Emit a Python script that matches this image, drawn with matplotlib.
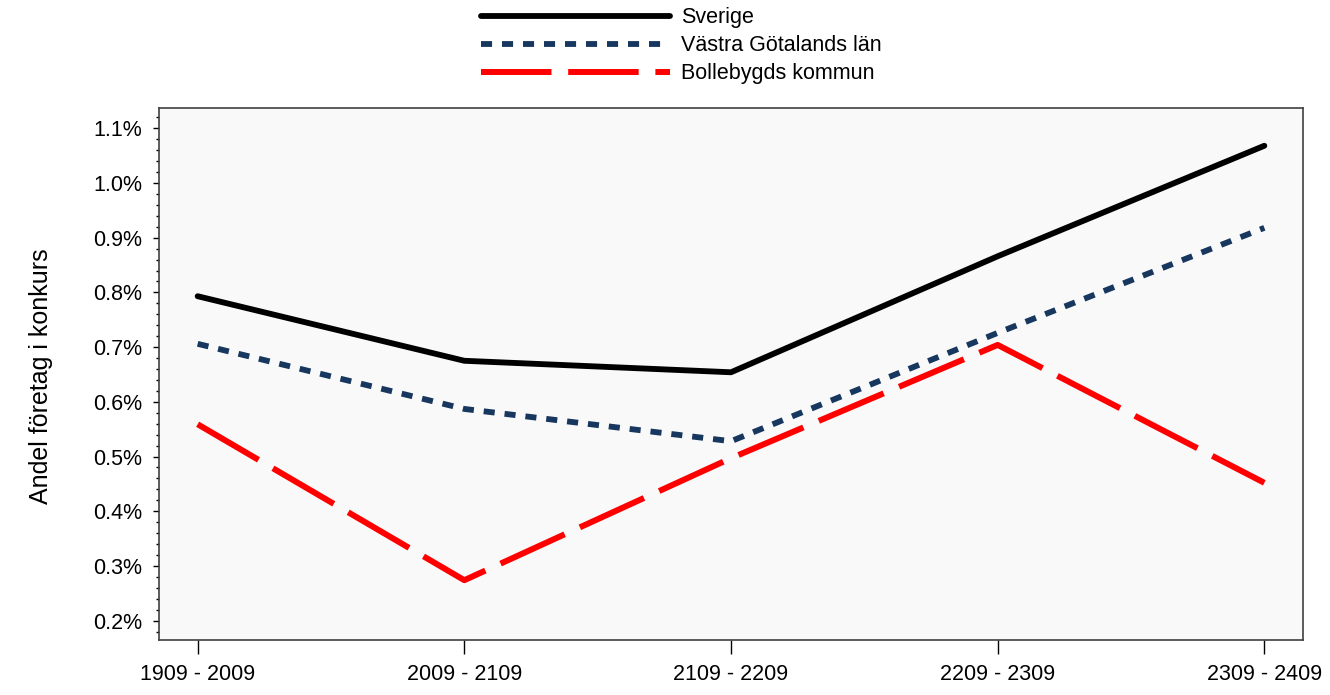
import matplotlib.pyplot as plt
from matplotlib.ticker import FuncFormatter, MultipleLocator

plt.rcParams['font.family'] = ['Liberation Sans', 'DejaVu Sans']

# data (andel i procent)
perioder = ['1909 - 2009', '2009 - 2109', '2109 - 2209', '2209 - 2309', '2309 - 2409']
sverige = [0.793, 0.675, 0.654, 0.866, 1.068]
vgl = [0.706, 0.587, 0.528, 0.726, 0.918]
bollebygd = [0.559, 0.274, 0.497, 0.704, 0.452]

fig = plt.figure(figsize=(13.3, 6.95), dpi=100)
ax = fig.add_axes([159/1330, 1-640/695, (1303-159)/1330, (640-108)/695])
ax.set_facecolor('#f9f9f9')

x = range(len(perioder))
ax.plot(x, sverige, color='black', lw=4.2, solid_capstyle='round', label='Sverige')
ax.plot(x, vgl, color='#17375e', lw=4.2, dashes=(1.9, 1.7), label='Västra Götalands län')
ax.plot(x, bollebygd, color='#ff0000', lw=4.3, dashes=(11.8, 2.8), label='Bollebygds kommun')

ax.set_xlim(-0.145, 4.145)
ax.set_ylim(0.1647, 1.137)
ax.set_xticks(list(x))
ax.set_xticklabels(perioder)
ax.yaxis.set_major_locator(MultipleLocator(0.1))
ax.yaxis.set_minor_locator(MultipleLocator(0.02))
ax.yaxis.set_major_formatter(FuncFormatter(lambda v, p: '%.1f%%' % v))
ax.tick_params(axis='both', labelsize=15.5, colors='black', direction='out')
ax.tick_params(axis='y', which='major', length=4, width=1, pad=8)
ax.tick_params(axis='y', which='minor', length=2, width=1)
ax.tick_params(axis='x', which='major', length=10, width=1, pad=7)
for s in ax.spines.values():
    s.set_color('#404040')
    s.set_linewidth(1.2)

fig.text(41/1330, 1-376/695, 'Andel företag i konkurs', rotation=90, fontsize=18,
         ha='center', va='center')

fig.legend(loc='upper center', bbox_to_anchor=(681/1330, 1.002), frameon=False,
           fontsize=15.5, handlelength=8.8, handletextpad=0.5, labelspacing=0.33,
           borderaxespad=0.0)

plt.savefig('out.png', dpi=100)
